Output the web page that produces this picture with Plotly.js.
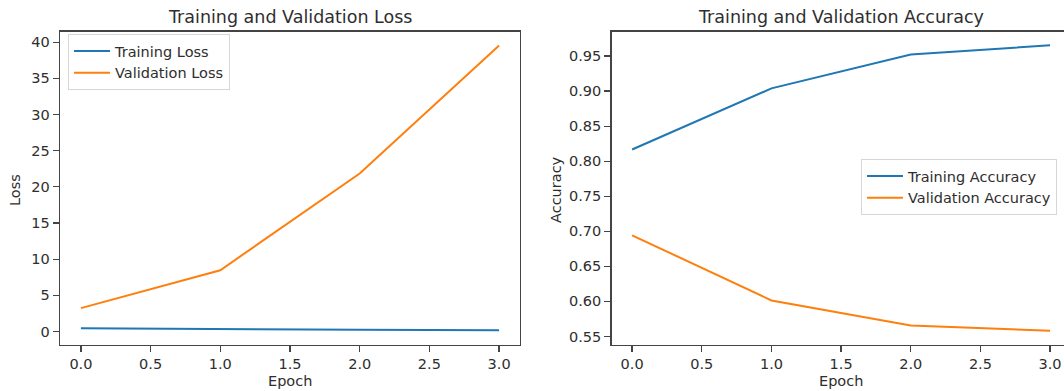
<!DOCTYPE html>
<html>
<head>
<meta charset="utf-8">
<script src="https://cdn.plot.ly/plotly-3.0.1.min.js"></script>
<style>html,body{margin:0;padding:0;background:#fff;}#chart{width:1064px;height:391px;}</style>
</head>
<body>
<div id="chart"></div>
<script>
// ---- data ----
const epochs = [0, 1, 2, 3];
const trainLoss = [0.46, 0.33, 0.24, 0.18];
const valLoss = [3.23, 8.47, 21.85, 39.55];
const trainAcc = [0.8167, 0.9039, 0.9524, 0.9653];
const valAcc = [0.6943, 0.6014, 0.5657, 0.5581];
const xTicks = [0, 0.5, 1, 1.5, 2, 2.5, 3];
const xTickText = ["0.0", "0.5", "1.0", "1.5", "2.0", "2.5", "3.0"];
const lossTicks = [0, 5, 10, 15, 20, 25, 30, 35, 40];
const accTicks = [0.55, 0.60, 0.65, 0.70, 0.75, 0.80, 0.85, 0.90, 0.95];
const accTickText = ["0.55", "0.60", "0.65", "0.70", "0.75", "0.80", "0.85", "0.90", "0.95"];

const W = 1064, H = 391;
const BLUE = '#1f77b4', ORANGE = '#ff7f0e';
const FONT = 'DejaVu Sans, sans-serif';
const TXT = '#2e2e2e';
const AX = '#444444';

const traces = [
  {x: epochs, y: trainLoss, name: 'Training Loss', mode: 'lines', line: {color: BLUE, width: 2}, xaxis: 'x', yaxis: 'y', legend: 'legend'},
  {x: epochs, y: valLoss, name: 'Validation Loss', mode: 'lines', line: {color: ORANGE, width: 2}, xaxis: 'x', yaxis: 'y', legend: 'legend'},
  {x: epochs, y: trainAcc, name: 'Training Accuracy', mode: 'lines', line: {color: BLUE, width: 2}, xaxis: 'x2', yaxis: 'y2', legend: 'legend2'},
  {x: epochs, y: valAcc, name: 'Validation Accuracy', mode: 'lines', line: {color: ORANGE, width: 2}, xaxis: 'x2', yaxis: 'y2', legend: 'legend2'}
];

const yDom = [(H - 344.5) / H, (H - 31.7) / H];
const axCommon = {
  showgrid: false, zeroline: false, showline: true, linecolor: AX, linewidth: 1.3,
  ticks: 'outside', ticklen: 6, tickwidth: 1.3, tickcolor: AX,
  tickfont: {family: FONT, size: 14.5, color: TXT}, automargin: false, fixedrange: true
};

const legendCommon = {
  font: {family: FONT, size: 14.5, color: TXT},
  bgcolor: 'rgba(255,255,255,0.8)', bordercolor: '#d6d6d6', borderwidth: 1,
  xanchor: 'left', yanchor: 'top', tracegroupgap: 0, itemwidth: 36
};

const layout = {
  width: W, height: H,
  margin: {l: 0, r: 0, t: 0, b: 0, pad: 0},
  paper_bgcolor: '#fff', plot_bgcolor: '#fff',
  showlegend: true,
  font: {family: FONT, color: TXT},
  xaxis: Object.assign({}, axCommon, {domain: [60 / W, 520 / W], range: [-0.15, 3.15], tickvals: xTicks, ticktext: xTickText, mirror: true, anchor: 'y'}),
  yaxis: Object.assign({}, axCommon, {domain: yDom, range: [-1.8, 41.45], tickvals: lossTicks, mirror: true, anchor: 'x'}),
  xaxis2: Object.assign({}, axCommon, {domain: [611.5 / W, 1], range: [-0.148, 3.1], tickvals: xTicks, ticktext: xTickText, mirror: true, anchor: 'y2'}),
  yaxis2: Object.assign({}, axCommon, {domain: yDom, range: [0.5385, 0.9848], tickvals: accTicks, ticktext: accTickText, mirror: false, anchor: 'x2'}),
  legend: Object.assign({}, legendCommon, {x: 68 / W, y: (H - 34) / H}),
  legend2: Object.assign({}, legendCommon, {x: 861 / W, y: (H - 159) / H}),
  annotations: [
    {text: 'Training and Validation Loss', x: 290 / W, y: (H - 16.5) / H, xref: 'paper', yref: 'paper', xanchor: 'center', yanchor: 'middle', showarrow: false, font: {family: FONT, size: 17.5, color: TXT}},
    {text: 'Training and Validation Accuracy', x: 841 / W, y: (H - 16.5) / H, xref: 'paper', yref: 'paper', xanchor: 'center', yanchor: 'middle', showarrow: false, font: {family: FONT, size: 17.5, color: TXT}},
    {text: 'Epoch', x: 290 / W, y: (H - 381) / H, xref: 'paper', yref: 'paper', xanchor: 'center', yanchor: 'middle', showarrow: false, font: {family: FONT, size: 14.5, color: TXT}},
    {text: 'Epoch', x: 841 / W, y: (H - 381) / H, xref: 'paper', yref: 'paper', xanchor: 'center', yanchor: 'middle', showarrow: false, font: {family: FONT, size: 14.5, color: TXT}},
    {text: 'Loss', x: 15 / W, y: (H - 190) / H, xref: 'paper', yref: 'paper', xanchor: 'center', yanchor: 'middle', textangle: -90, showarrow: false, font: {family: FONT, size: 14.5, color: TXT}},
    {text: 'Accuracy', x: 556 / W, y: (H - 190) / H, xref: 'paper', yref: 'paper', xanchor: 'center', yanchor: 'middle', textangle: -90, showarrow: false, font: {family: FONT, size: 14.5, color: TXT}}
  ]
};

Plotly.newPlot('chart', traces, layout, {displayModeBar: false, staticPlot: true});
</script>
</body>
</html>
